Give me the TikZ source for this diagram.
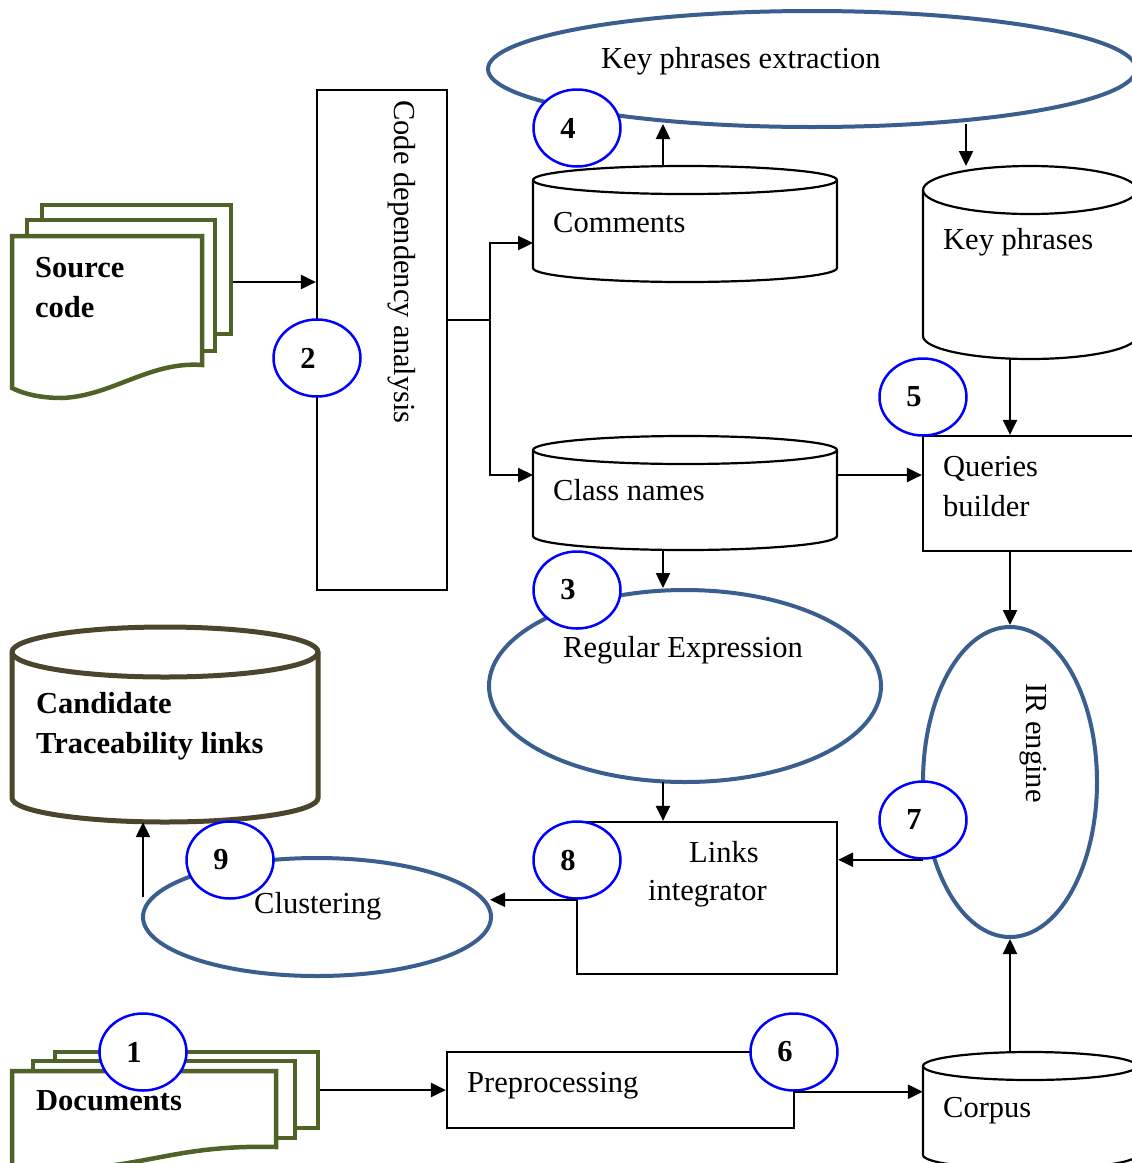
\documentclass[tikz,border=0pt]{standalone}
\usepackage{fontspec}
\setmainfont{Liberation Serif}
\usetikzlibrary{arrows.meta,shapes.geometric}

\definecolor{docgreen}{HTML}{4F6228}
\definecolor{shapeblue}{HTML}{3A5F8F}
\definecolor{storebrown}{HTML}{4A452C}

% cylinder: #1 style, #2 left x, #3 right x, #4 top-ellipse centre y,
% #5 bottom-ellipse centre y, #6 top radius y, #7 bottom radius y
\newcommand{\drum}[7]{%
  \pgfmathsetmacro\drumrx{(#3-#2)/2}%
  \draw[#1] (#2,#4) -- (#2,#5)
    arc[start angle=180,end angle=360,x radius=\drumrx pt,y radius=#7pt]
    -- (#3,#4)
    arc[start angle=0,end angle=180,x radius=\drumrx pt,y radius=#6pt] -- cycle;
  \draw[#1,fill=none] (#2,#4)
    arc[start angle=180,end angle=360,x radius=\drumrx pt,y radius=#6pt];
}

\begin{document}
\begin{tikzpicture}[x=1pt,y=-1pt,
  txt/.style={font=\fontsize{30.5}{36}\selectfont},
  btxt/.style={font=\fontsize{30.5}{36}\selectfont\bfseries},
  lbl/.style={txt, anchor=base west, inner sep=0pt},
  blbl/.style={btxt, anchor=base west, inner sep=0pt},
  conn/.style={line width=2.4pt, draw=black},
  arr/.style={conn, -{Triangle[length=15pt,width=14pt]}},
  box/.style={rectangle, draw=black, line width=2.2pt, fill=white, inner sep=0pt},
  proc/.style={ellipse, draw=shapeblue, line width=4pt, fill=white, inner sep=0pt},
  num/.style={ellipse, draw=blue, line width=2.5pt, fill=white,
    minimum width=87pt, minimum height=77pt, inner sep=0pt,
    label={[xshift=-9pt,btxt]center:#1}},
  store/.style={line width=2.2pt, draw=black, fill=white},
  bigstore/.style={line width=5pt, draw=storebrown, fill=white},
  page/.style={draw=docgreen, line width=4.5pt, fill=white, line join=miter},
  hold/.style={rectangle, inner sep=0pt, draw=none},
]
\useasboundingbox (0,0) rectangle (1132,1163);
\clip (0,0) rectangle (1132,1163);
\fill[white] (0,0) rectangle (1132,1163);

% ---------- source code pages ----------
\draw[page] (42,205) rectangle (231,334);
\draw[page] (27,220) rectangle (215,351);
\draw[page] (12,236) -- (202,236) -- (202,365)
  .. controls (150,361) and (112,396) .. (62,398)
  .. controls (38,398) and (22,393) .. (12,388) -- cycle;
\node[blbl] at (35,277) {Source};
\node[blbl] at (35,317) {code};
\coordinate (src) at (233,282);

% ---------- documents pages ----------
\draw[page] (55,1052) rectangle (318,1128);
\draw[page] (33,1061) rectangle (295,1138);
\draw[page] (12,1071) -- (276,1071) -- (276,1147)
  .. controls (200,1145) and (165,1158) .. (115,1165)
  .. controls (70,1171) and (40,1172) .. (12,1170) -- cycle;
\node[blbl] at (36,1110) {Documents};
\coordinate (docs) at (320,1090);

% ---------- process boxes ----------
\node[box, minimum width=130pt, minimum height=500pt] (cda) at (382,340) {};
\node[lbl, rotate=-90] at (394,100) {Code dependency analysis};

\node[box, minimum width=230pt, minimum height=115pt] (qb) at (1038,493.5) {};
\node[lbl] at (943,476) {Queries};
\node[lbl] at (943,516) {builder};

\node[box, minimum width=260pt, minimum height=152pt] (li) at (707,898) {};
\node[lbl] at (689,862) {Links};
\node[lbl] at (648,900) {integrator};

\node[box, minimum width=347pt, minimum height=76pt] (pre) at (620.5,1090) {};
\node[lbl] at (467,1092) {Preprocessing};

% ---------- data stores ----------
\drum{store}{533}{837}{180}{268}{14}{14}
\node[hold, minimum width=304pt, minimum height=116pt] (cmt) at (685,224) {};
\node[lbl] at (553,232) {Comments};

\drum{store}{533}{837}{450}{536}{14}{14}
\node[hold, minimum width=304pt, minimum height=114pt] (cls) at (685,493) {};
\node[lbl] at (553,500) {Class names};

\drum{store}{923}{1137}{190}{336}{24}{23}
\node[hold, minimum width=214pt, minimum height=193pt] (kp) at (1030,262.5) {};
\node[lbl] at (943,249) {Key phrases};

\drum{store}{923}{1137}{1066}{1155}{14}{14}
\node[hold, minimum width=214pt, minimum height=117pt] (corp) at (1030,1110.5) {};
\node[lbl] at (943,1117) {Corpus};

\drum{bigstore}{12}{318}{652}{798}{25}{24}
\node[hold, minimum width=306pt, minimum height=195pt] (cand) at (165,724.5) {};
\node[blbl] at (36,713) {Candidate};
\node[blbl] at (36,753) {Traceability links};

% ---------- processing ellipses ----------
\node[proc, minimum width=648pt, minimum height=116pt] (kpe) at (812,69) {};
\node[lbl] at (601,68) {Key phrases extraction};

\node[proc, minimum width=392pt, minimum height=192pt] (rex) at (685,686) {};
\node[lbl] at (563,657) {Regular Expression};

\node[proc, minimum width=174pt, minimum height=310pt] (ir) at (1010,782) {};
\node[lbl, rotate=-90] at (1026,683) {IR engine};

\node[proc, minimum width=348pt, minimum height=118pt] (clu) at (317,917) {};
\node[lbl] at (254,913) {Clustering};

% ---------- connector end points ----------
\coordinate (fork)    at (490,320);
\coordinate (cmt-in)  at (533,243);
\coordinate (cls-in)  at (533,475);
\coordinate (cmt-up)  at (663,166);
\coordinate (kpe-in)  at (663,124);
\coordinate (kpe-out) at (966,124);
\coordinate (kp-in)   at (966,166);
\coordinate (kp-out)  at (1010,359);
\coordinate (cls-out) at (837,475);
\coordinate (cls-dn)  at (663,550);
\coordinate (rex-dn)  at (663,782);
\coordinate (clu-in)  at (490,898);
\coordinate (cand-up) at (143,897);

% ---------- step markers ----------
\node[num=1] (n1) at (143,1052) {};
\node[num=2] (n2) at (317,358) {};
\node[num=3] (n3) at (577,590) {};
\node[num=4] (n4) at (577,128) {};
\node[num=5] (n5) at (923,397) {};
\node[num=6] (n6) at (794,1052) {};
\node[num=7] (n7) at (923,820) {};
\node[num=8] (n8) at (577,860) {};
\node[num=9] (n9) at (230,860) {};

% ---------- connectors ----------
\draw[arr] (src) -- (src -| cda.west);
\draw[conn] (fork -| cda.east) -- (fork);
\draw[arr] (fork) |- (cmt-in);
\draw[arr] (fork) |- (cls-in);
\draw[arr] (cmt-up) -- (kpe-in);
\draw[arr] (kpe-out) -- (kp-in);
\draw[arr] (kp-out) -- (kp-out |- qb.north);
\draw[arr] (cls-out) -- (cls-out -| qb.west);
\draw[arr] (ir.north |- qb.south) -- (ir.north);
\draw[arr] (cls-dn) -- (cls-dn |- rex.north);
\draw[arr] (rex-dn) -- (rex-dn |- li.north);
\draw[arr] (n7.south) -- (n7.south -| li.east);
\draw[arr] (n8.south) -- (n8.south -| clu-in);
\draw[arr] (cand-up) -- (cand-up |- cand.south);
\draw[arr] (docs) -- (pre.west);
\draw[arr] (n6.south) -- (n6.south -| corp.west);
\draw[arr] (corp.north -| ir.south) -- (ir.south);
\end{tikzpicture}
\end{document}
